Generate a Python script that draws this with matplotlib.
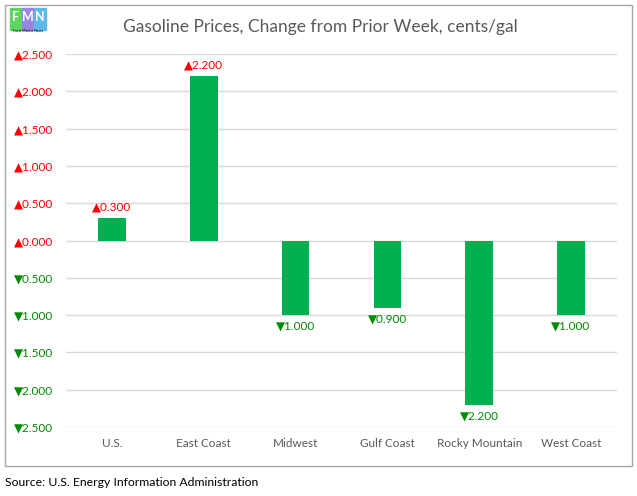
import matplotlib.pyplot as plt
from matplotlib.patches import Rectangle

regions = ["U.S.", "East Coast", "Midwest", "Gulf Coast", "Rocky Mountain", "West Coast"]
changes = [0.3, 2.2, -1.0, -0.9, -2.2, -1.0]
y_ticks = [2.5, 2.0, 1.5, 1.0, 0.5, 0.0, -0.5, -1.0, -1.5, -2.0, -2.5]

fonts = ['Lato', 'DejaVu Sans']
plt.rcParams['font.family'] = fonts

up_color = '#FF0000'
down_color = '#008A00'
bar_color = '#00B050'
gray = '#595959'


def fmt(v):
    if v >= 0:
        return "\u25B2{:.3f}".format(abs(v))
    return "\u25BC{:.3f}".format(abs(v))


fig = plt.figure(figsize=(6.37, 4.96), dpi=100)
ax = fig.add_axes([0.1036, 0.139, 0.865, 0.752])

x = range(len(regions))
ax.bar(x, changes, width=0.3, color=bar_color, zorder=3)

ax.set_ylim(-2.5, 2.5)
ax.set_xlim(-0.5, len(regions) - 0.5)
ax.set_yticks(y_ticks)
ax.set_yticklabels([fmt(v) for v in y_ticks])
for lbl, v in zip(ax.get_yticklabels(), y_ticks):
    lbl.set_color(up_color if v >= 0 else down_color)
ax.tick_params(axis='y', length=0, labelsize=8.5, pad=9)
ax.set_xticks(list(x))
ax.set_xticklabels(regions, color=gray)
ax.tick_params(axis='x', length=0, labelsize=8.5, pad=8)
ax.xaxis.set_ticks_position('bottom')
ax.grid(axis='y', color='#D9D9D9', linewidth=1, zorder=0)
for s in ax.spines.values():
    s.set_visible(False)

# data labels
for i, v in enumerate(changes):
    if v >= 0:
        ax.annotate(fmt(v), (i, v), xytext=(0, 4), textcoords='offset points',
                    ha='center', va='bottom', color=up_color, fontsize=8.5)
    else:
        ax.annotate(fmt(v), (i, v), xytext=(0, -4), textcoords='offset points',
                    ha='center', va='top', color=down_color, fontsize=8.5)

fig.text(0.503, 0.945, "Gasoline Prices, Change from Prior Week, cents/gal",
         ha='center', va='center', fontsize=12.5, color=gray)

# chart border
fig.patches.append(Rectangle((5 / 637, 1 - 466 / 496), 627 / 637, 461 / 496,
                             transform=fig.transFigure, fill=False,
                             edgecolor='#A6A6A6', linewidth=1))

# small logo
logo_colors = ['#5CD65C', '#9A86E0', '#5DB8E8']
for k, (c, letter) in enumerate(zip(logo_colors, "FMN")):
    fig.patches.append(Rectangle(((10 + k * 12) / 637, 1 - 30 / 496), 12 / 637, 22 / 496,
                                 transform=fig.transFigure, color=c))
    fig.text((16 + k * 12) / 637, 1 - 17 / 496, letter, ha='center', va='center',
             fontsize=9, color='white', fontweight='bold')
fig.text(28 / 637, 1 - 31 / 496, "Fuels Market News", ha='center', va='center',
         fontsize=2.5, color='black')

fig.text(5 / 637, 1 - 483 / 496, "Source: U.S. Energy Information Administration",
         ha='left', va='center', fontsize=8.8, color='black')

plt.savefig('out.png', dpi=100)
